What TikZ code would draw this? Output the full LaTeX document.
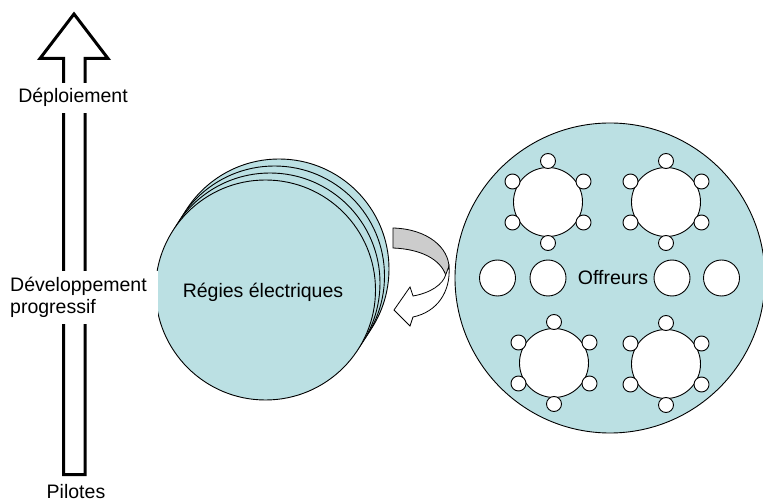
\documentclass[tikz,border=0pt]{standalone}
\usepackage{fontspec}
\setmainfont{Liberation Sans}
\definecolor{pale}{RGB}{187,224,227}
\definecolor{ribbon}{RGB}{204,204,204}
\tikzset{
  lbl/.style={font=\fontsize{19.5}{22}\selectfont, inner sep=0pt},
  blank/.style={fill=white, inner xsep=2pt, inner ysep=6pt},
  disc/.style={draw, fill=pale, line width=0.9pt},
  seat/.style={circle, draw, fill=white, minimum size=15pt, inner sep=0pt, line width=0.9pt},
  tabl/.style={circle, draw, fill=white, minimum size=69pt, inner sep=0pt, line width=0.9pt},
  stool/.style={circle, draw, fill=white, minimum size=36pt, inner sep=0pt, line width=0.9pt},
}
\begin{document}
\begin{tikzpicture}[x=1pt,y=-1pt]
\useasboundingbox (0,0) rectangle (763,502);
% big progress arrow
\draw[line width=3pt, line join=miter, fill=white]
  (74,14) -- (108,58.5) -- (85,58.5) -- (85,474.5) -- (63.5,474.5) -- (63.5,58.5) -- (40,58.5) -- cycle;
% stacked discs
\foreach \k in {3,2,1}
  \draw[disc] ({265.5+4.5*\k},{290-7*\k}) circle[radius=110pt];
\node[circle, disc, minimum size=220pt, inner sep=0pt] (regie) at (265.5,290) {};
\node[lbl, anchor=base] (regietxt) at (263,298) {Régies électriques};
% labels on the arrow
\node[lbl, blank, anchor=base] (deploy) at (73,103) {Déploiement};
\node[lbl, blank, anchor=west, text width=146pt, align=left] (devprog) at (8,297.5) {Développement\\progressif};
\node[lbl, anchor=base] (pilot) at (76,498) {Pilotes};
% curved ribbon arrow
\draw[fill=ribbon, line width=0.8pt]
  (393,228) .. controls (428,229) and (449,248) .. (449,268) -- (446,276)
  .. controls (441,259) and (420,249) .. (393,248) -- cycle;
\draw[fill=white, line width=0.8pt]
  (446,274) .. controls (443,285) and (430,293) .. (413,296) -- (410,287) -- (394,310)
  -- (410,326) -- (413,317) .. controls (437,312) and (451,292) .. (449,266) -- cycle;
% offreurs disc
\node[circle, disc, minimum size=310pt, inner sep=0pt] (offre) at (610,278) {};
\foreach \cx/\cy/\n in {548/202/a, 666/202/b, 554/363/c, 666/364/d} {
  \node[tabl] (t\n) at (\cx,\cy) {};
  \foreach \ang [count=\i] in {90,30,-30,-90,-150,150}
    \node[seat] (t\n s\i) at ([shift={(\ang:41pt)}]t\n.center) {};
}
\node[stool] (m1) at (497.5,278) {};
\node[stool] (m2) at (548,278) {};
\node[stool] (m3) at (672,278) {};
\node[stool] (m4) at (721.5,278) {};
\node[lbl, anchor=base] (offtxt) at (613,285) {Offreurs};
\end{tikzpicture}
\end{document}
